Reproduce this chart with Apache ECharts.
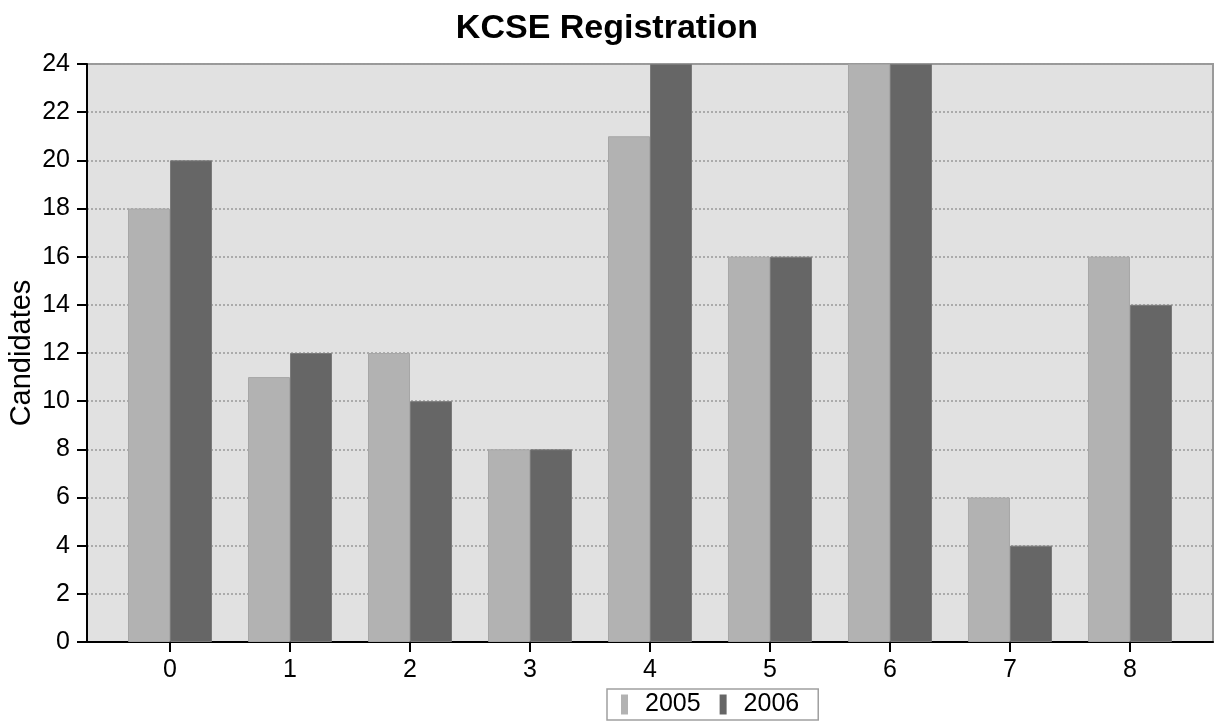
<!DOCTYPE html>
<html>
<head>
<meta charset="utf-8">
<script src="https://cdn.jsdelivr.net/npm/echarts@6/dist/echarts.min.js"></script>
<style>html,body{margin:0;padding:0;background:#fff;}#c{width:1214px;height:722px;}</style>
</head>
<body>
<div id="c"></div>
<script>
const categories = [0, 1, 2, 3, 4, 5, 6, 7, 8];
const seriesNames = ['2005', '2006'];
const values2005 = [18, 11, 12, 8, 21, 16, 24, 6, 16];
const values2006 = [20, 12, 10, 8, 24, 16, 24, 4, 14];
const yTicks = [0, 2, 4, 6, 8, 10, 12, 14, 16, 18, 20, 22, 24];

const FONT = '"Liberation Sans", Arial, sans-serif';
const chart = echarts.init(document.getElementById('c'), null, {renderer: 'canvas'});
const toPairs = vals => categories.map((c, i) => [c, vals[i]]);

chart.setOption({
  animation: false,
  backgroundColor: '#ffffff',
  title: {
    text: 'KCSE Registration',
    left: 'center',
    top: 7,
    textStyle: {fontFamily: FONT, fontWeight: 'bold', fontSize: 34, color: '#000'}
  },
  legend: {
    data: seriesNames,
    left: 607,
    top: 689,
    orient: 'horizontal',
    itemWidth: 7,
    itemHeight: 20,
    itemGap: 19,
    padding: [3, 19, 3, 14],
    borderColor: '#a0a0a0',
    borderWidth: 1.5,
    icon: 'rect',
    itemStyle: {borderWidth: 0},
    textStyle: {fontFamily: FONT, fontSize: 25, color: '#000', padding: [0, 0, 0, 12]}
  },
  grid: {
    left: 87, right: 1, top: 64, bottom: 80,
    containLabel: false,
    outerBoundsMode: 'none',
    show: true,
    backgroundColor: '#e1e1e1',
    borderColor: '#9a9a9a',
    borderWidth: 2
  },
  xAxis: {
    type: 'value',
    min: -0.6917,
    max: 8.6917,
    axisLine: {show: true, onZero: false, lineStyle: {color: '#000', width: 2}},
    axisTick: {show: true, length: 10, customValues: categories, lineStyle: {color: '#000', width: 2}},
    axisLabel: {customValues: categories, margin: 16, fontFamily: FONT, fontSize: 25, color: '#000'},
    splitLine: {show: false}
  },
  yAxis: {
    type: 'value',
    min: 0,
    max: 24,
    interval: 2,
    name: 'Candidates',
    nameLocation: 'middle',
    nameRotate: 90,
    nameGap: 51,
    nameMoveOverlap: false,
    nameTextStyle: {fontFamily: FONT, fontSize: 29, color: '#000'},
    axisLine: {show: true, onZero: false, lineStyle: {color: '#000', width: 2}},
    axisTick: {show: true, length: 10, lineStyle: {color: '#000', width: 2}},
    axisLabel: {margin: 17, fontFamily: FONT, fontSize: 25, color: '#000',
      formatter: v => yTicks.includes(v) ? String(v) : ''},
    splitLine: {show: true, lineStyle: {color: '#999', width: 1.5, type: [2, 2]}}
  },
  series: [
    {
      name: seriesNames[0], type: 'bar', data: toPairs(values2005),
      barGap: '0%', barCategoryGap: '30%',
      itemStyle: {color: '#b2b2b2', borderColor: '#a6a6a6', borderWidth: 1}
    },
    {
      name: seriesNames[1], type: 'bar', data: toPairs(values2006),
      barGap: '0%', barCategoryGap: '30%',
      itemStyle: {color: '#666666', borderColor: '#7a7a7a', borderWidth: 1}
    }
  ]
});
</script>
</body>
</html>
